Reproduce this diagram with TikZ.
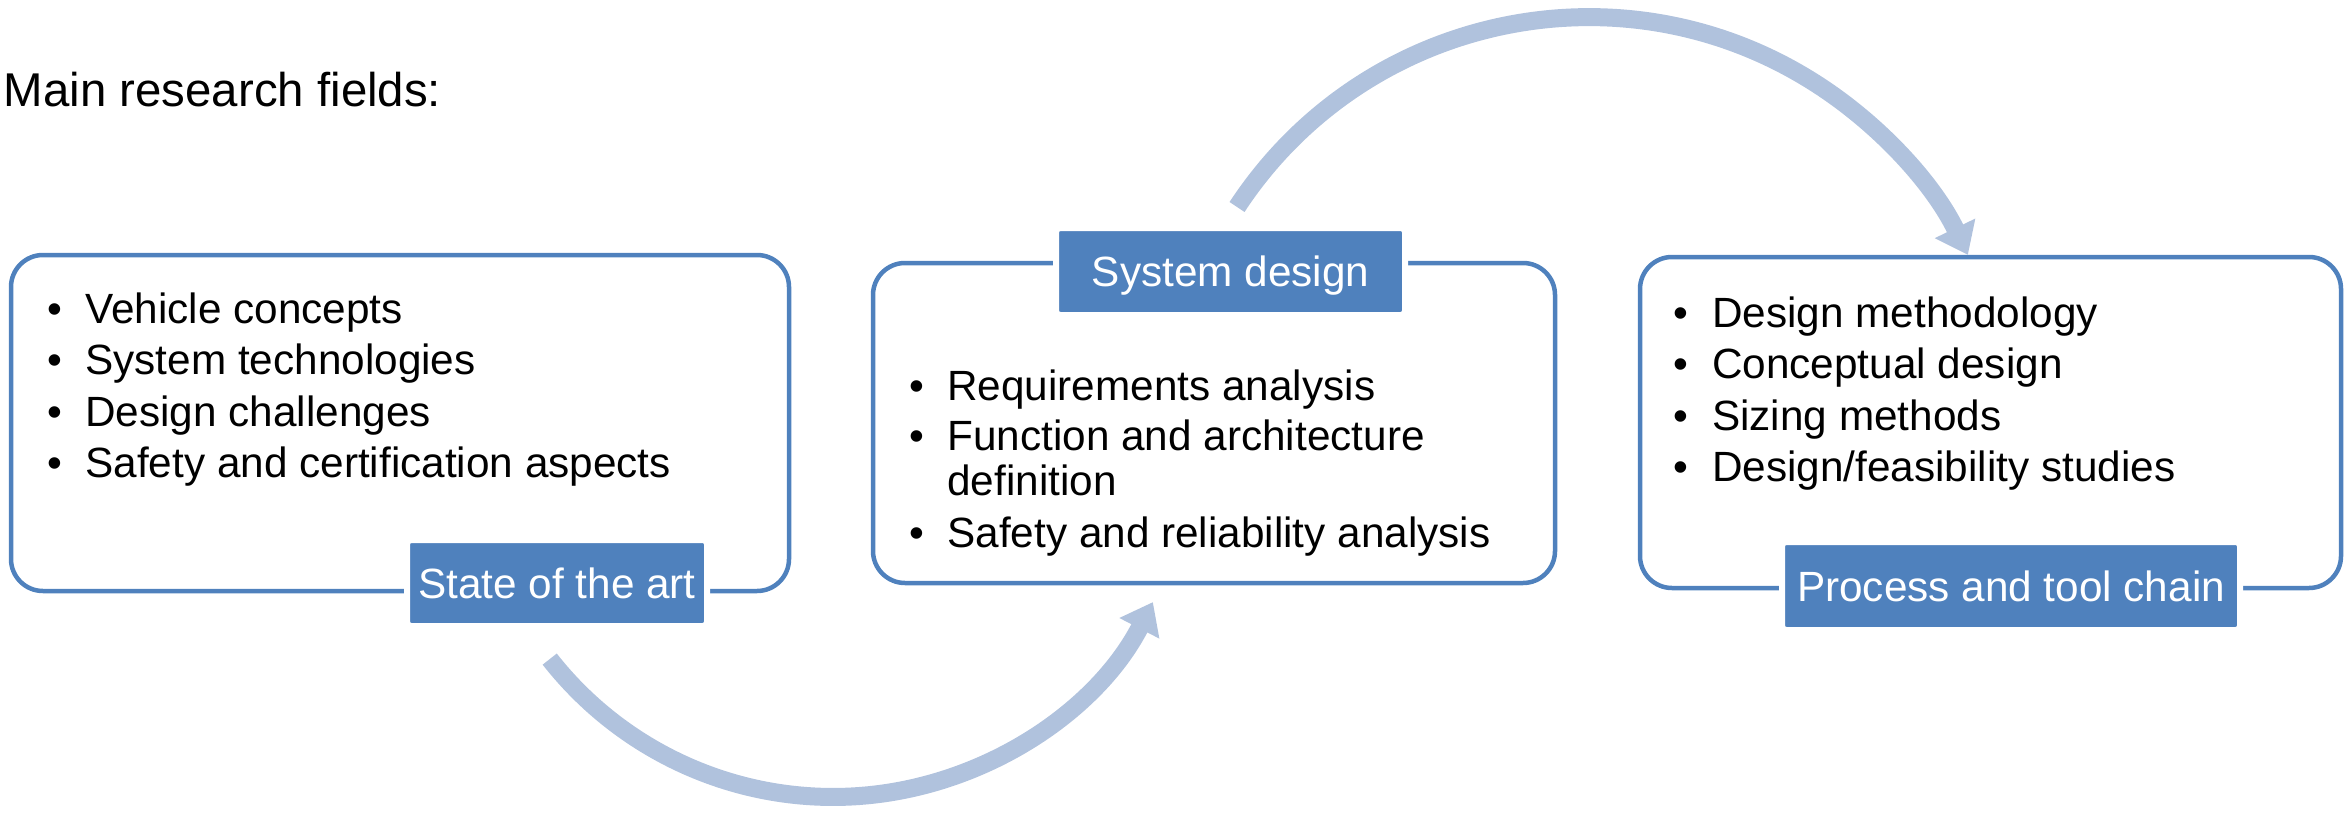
\documentclass[tikz,border=0pt]{standalone}
\usepackage{fontspec}
\setmainfont{Liberation Sans}
\usetikzlibrary{arrows.meta}

\definecolor{fieldblue}{RGB}{79,129,189}
\definecolor{cycleblue}{RGB}{176,194,221}

\tikzset{
  fieldbox/.style={draw=fieldblue, line width=2.25pt, rounded corners=16pt, inner sep=0pt},
  fieldtag/.style={fill=fieldblue, draw=white, line width=3pt, rounded corners=2pt, text=white,
    font=\fontsize{21.15}{25}\selectfont, text height=15.1pt, text depth=0pt, inner sep=0pt},
  fieldlist/.style={anchor=base west, inner sep=0pt, font=\fontsize{21.15}{22.5}\selectfont},
  cyclearrow/.style={draw=cycleblue, line width=9pt, -{Triangle[width=21.5pt,length=14.75pt]}},
}

\begin{document}
\begin{tikzpicture}[x=0.5pt, y=0.5pt]
\useasboundingbox (0,0) rectangle (2349,816);

\node[anchor=base west, inner sep=0pt, font=\fontsize{23.7}{28}\selectfont] (title) at (3.5,709) {Main research fields:};

\node[fieldbox, minimum width=389pt, minimum height=168pt] (soa) at (400,393) {};
\node[fieldbox, minimum width=341pt, minimum height=160pt] (sd) at (1214,393) {};
\node[fieldbox, minimum width=350.5pt, minimum height=165.5pt] (ptc) at (1990.5,393.5) {};

\node[fieldlist] (soa list) at (47,493) {\begin{tabular}[t]{@{}l@{\hspace{11.6pt}}l@{}}
\textbullet & Vehicle concepts\\[3.25pt]
\textbullet & System technologies\\[3.25pt]
\textbullet & Design challenges\\[3.25pt]
\textbullet & Safety and certification aspects
\end{tabular}};
\node[fieldlist] (sd list) at (909,416) {\begin{tabular}[t]{@{}l@{\hspace{11.6pt}}l@{}}
\textbullet & Requirements analysis\\[2.75pt]
\textbullet & Function and architecture\\
 & definition\\[3.5pt]
\textbullet & Safety and reliability analysis
\end{tabular}};
\node[fieldlist] (ptc list) at (1673,489) {\begin{tabular}[t]{@{}l@{\hspace{12pt}}l@{}}
\textbullet & Design methodology\\[3.25pt]
\textbullet & Conceptual design\\[3.25pt]
\textbullet & Sizing methods\\[3.25pt]
\textbullet & Design/feasibility studies
\end{tabular}};

\node[fieldtag, minimum width=150pt, minimum height=43pt] (soa tag) at (557,233) {State of the art};
\node[fieldtag, minimum width=174.5pt, minimum height=43.5pt] (sd tag) at (1230.5,544.5) {System design};
\node[fieldtag, minimum width=229pt, minimum height=44pt] (ptc tag) at (2011,230) {Process and tool chain};

\coordinate (lower tail) at (549.7,156.9);
\coordinate (upper tail) at (1237,609);
\draw[cyclearrow] (lower tail) arc[start angle=218.1, end angle=332.7, radius=180pt];
\draw[cyclearrow] (upper tail) arc[start angle=146.7, end angle=25.8, radius=210.5pt];
\end{tikzpicture}
\end{document}
